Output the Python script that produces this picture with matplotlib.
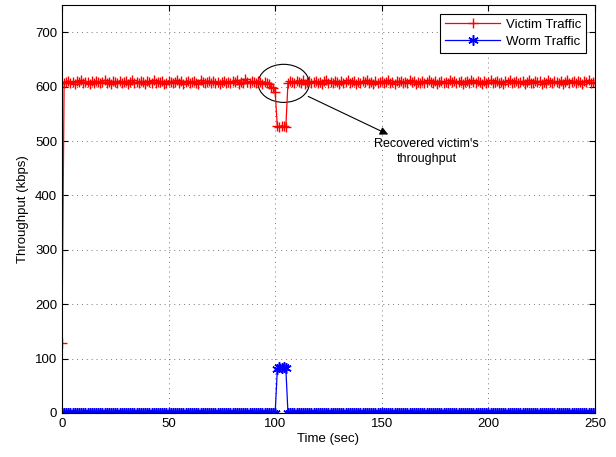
import numpy as np
import matplotlib
matplotlib.use("Agg")
import matplotlib.pyplot as plt
from matplotlib.patches import Ellipse

plt.rcParams['font.family'] = ['Liberation Sans', 'DejaVu Sans']

# tempo (s), um ponto por segundo
tempo = np.arange(0, 251)

# trafego da vitima (kbps)
vitima = [128,
          606, 609, 611, 607, 608, 605, 610, 608, 612, 606, 608, 609, 604, 610, 607, 611, 608, 606, 609, 612, 607, 608, 605, 610, 609,
          607, 611, 606, 608, 610, 604, 609, 612, 607, 608, 606, 610, 609, 605, 611, 608, 607, 612, 606, 609, 608, 610, 605, 607, 611,
          609, 606, 608, 612, 607, 610, 604, 609, 611, 606, 608, 610, 607, 605, 612, 609, 606, 608, 611, 607, 610, 606, 609, 605, 608,
          611, 607, 609, 606, 610, 608, 612, 605, 609, 607, 614, 608, 606, 610, 609, 607, 611, 608, 605, 609, 607, 604, 600, 598,
          590,
          527, 526, 528, 527, 526,
          607, 610, 608, 606, 611, 609, 607, 612, 605, 608, 610, 606, 609, 611, 607, 608, 604, 610, 612, 606, 609, 607, 611, 608, 605,
          610, 607, 609, 612, 606, 608, 611, 605, 609, 607, 610, 608, 612, 606, 609, 604, 611, 607, 608, 610, 606, 609, 612, 607, 608,
          605, 610, 608, 611, 607, 609, 606, 612, 608, 610, 605, 609, 607, 611, 606, 608, 612, 609, 607, 610, 604, 608, 611, 606, 609,
          607, 612, 608, 610, 606, 609, 611, 605, 608, 610, 607, 612, 609, 606, 611, 608, 604, 610, 607, 609, 612, 606, 608, 611, 607,
          609, 605, 610, 608, 612, 606, 609, 611, 607, 608, 610, 604, 609, 612, 607, 606, 611, 608, 610, 605, 609, 607, 612, 608, 606,
          610, 609, 607, 611, 605, 608, 612, 606, 609, 610, 607, 611, 608, 605, 610, 609, 612, 607, 608, 606]

# trafego do worm (kbps)
worm = [0] * 101 + [80, 84, 83, 85, 82] + [0] * 145

# referencia sem worm (preto, fora da legenda)
ref_worm = [0] * 251

fig = plt.figure(figsize=(6.16, 4.57), dpi=100)
ax = fig.add_axes([0.1006, 0.0963, 0.8653, 0.8927])

ax.plot(tempo, ref_worm, color='black', linewidth=0.8)
ax.plot(tempo, vitima, color='red', marker='+', markersize=6.5, linewidth=0.9,
        label='Victim Traffic')
ax.plot(tempo, worm, color='blue', marker=(6, 2, 0), markersize=7.5,
        markeredgewidth=1.1, linewidth=0.9, label='Worm Traffic')

# destaque da recuperacao
ax.add_patch(Ellipse((104, 606), 24, 70, fill=False, edgecolor='black', linewidth=0.8))
ax.annotate('', xy=(153, 512), xytext=(115.5, 582),
            arrowprops=dict(arrowstyle='-|>', color='black', linewidth=0.8,
                            mutation_scale=12, shrinkA=0, shrinkB=0))
ax.text(171, 481, "Recovered victim's\nthroughput", ha='center', va='center',
        fontsize=9, linespacing=1.3)

ax.set_xlim(0, 250)
ax.set_ylim(0, 750)
ax.set_xticks(np.arange(0, 251, 50))
ax.set_yticks(np.arange(0, 701, 100))
ax.grid(True, linestyle=(0, (1, 4)), color='#777777', linewidth=0.7)
ax.tick_params(direction='in', top=True, right=True, labelsize=9.5, length=4)
ax.set_xlabel('Time (sec)', fontsize=9.5, labelpad=2)
ax.set_ylabel('Throughput (kbps)', fontsize=9.5, labelpad=4)

leg = ax.legend(loc='upper right', fontsize=9.5, fancybox=False, framealpha=1,
                edgecolor='black', borderaxespad=0.7, handlelength=4.2,
                borderpad=0.35, labelspacing=0.35, handletextpad=0.4)
leg.get_frame().set_linewidth(0.8)

fig.savefig('out.png', dpi=100)
